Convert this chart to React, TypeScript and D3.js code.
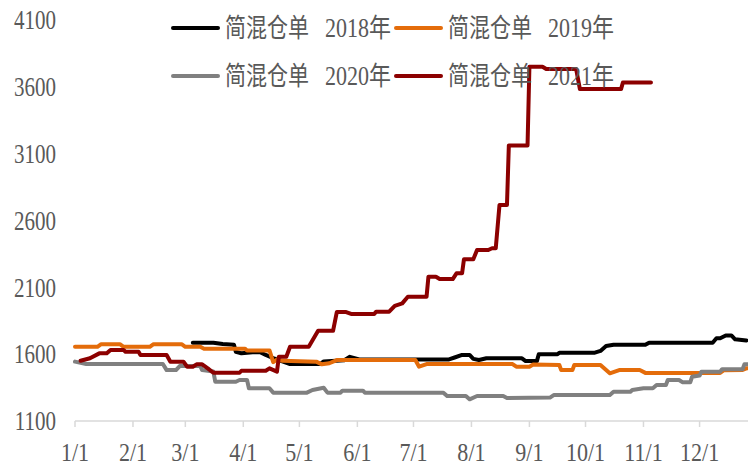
import * as d3 from 'd3';

// 简混仓单 warehouse receipts, [date, value]
const series2018: [string, number][] = [
  ['03-05', 1686], ['03-16', 1686], ['03-21', 1676], ['03-27', 1670], ['03-28', 1618], ['03-31', 1606],
  ['04-06', 1614], ['04-10', 1614], ['04-13', 1594], ['04-17', 1571], ['04-26', 1526], ['05-12', 1526],
  ['05-14', 1545], ['05-25', 1555], ['05-28', 1580], ['06-02', 1561], ['07-20', 1561], ['07-23', 1575],
  ['07-27', 1594], ['07-31', 1594], ['08-02', 1565], ['08-05', 1556], ['08-09', 1569], ['08-28', 1569],
  ['08-30', 1548], ['09-05', 1548], ['09-06', 1599], ['09-16', 1599], ['09-17', 1611], ['10-06', 1611],
  ['10-09', 1624], ['10-12', 1661], ['10-16', 1670], ['11-02', 1670], ['11-04', 1686], ['12-08', 1686],
  ['12-10', 1719], ['12-12', 1719], ['12-15', 1740], ['12-18', 1740], ['12-20', 1711], ['12-26', 1703],
];

const series2019: [string, number][] = [
  ['01-01', 1655], ['01-13', 1655], ['01-15', 1675], ['01-25', 1675], ['01-27', 1655], ['02-10', 1655],
  ['02-12', 1675], ['02-27', 1675], ['03-01', 1655], ['03-09', 1655], ['03-11', 1640], ['04-02', 1640],
  ['04-03', 1628], ['04-15', 1628], ['04-17', 1540], ['04-19', 1560], ['04-22', 1550], ['05-10', 1544],
  ['05-13', 1524], ['05-17', 1532], ['05-21', 1556], ['07-02', 1556], ['07-04', 1506], ['07-08', 1526],
  ['08-23', 1526], ['08-25', 1506], ['09-01', 1506], ['09-03', 1522], ['09-17', 1519], ['09-18', 1481],
  ['09-24', 1481], ['09-25', 1519], ['10-09', 1519], ['10-14', 1457], ['10-19', 1481], ['10-30', 1481],
  ['11-02', 1460], ['12-12', 1460], ['12-14', 1480], ['12-24', 1482], ['12-26', 1494], ['12-31', 1494],
];

const series2020: [string, number][] = [
  ['01-01', 1544], ['01-07', 1526], ['02-17', 1526], ['02-19', 1481], ['02-24', 1481], ['02-26', 1511],
  ['03-09', 1511], ['03-10', 1481], ['03-16', 1470], ['03-17', 1394], ['03-28', 1394], ['03-30', 1407],
  ['04-03', 1407], ['04-04', 1345], ['04-15', 1345], ['04-17', 1312], ['05-05', 1312], ['05-08', 1332],
  ['05-14', 1349], ['05-16', 1312], ['05-23', 1312], ['05-24', 1327], ['06-04', 1327], ['06-05', 1312],
  ['07-17', 1312], ['07-19', 1287], ['07-29', 1287], ['07-31', 1262], ['08-04', 1287], ['08-18', 1287],
  ['08-20', 1272], ['09-12', 1275], ['09-14', 1294], ['10-14', 1294], ['10-16', 1319], ['10-25', 1319],
  ['10-26', 1332], ['11-01', 1345], ['11-06', 1345], ['11-08', 1369], ['11-13', 1369], ['11-14', 1407],
  ['11-20', 1407], ['11-22', 1389], ['11-26', 1389], ['11-27', 1431], ['12-01', 1440], ['12-02', 1469],
  ['12-12', 1469], ['12-13', 1487], ['12-24', 1487], ['12-25', 1524], ['12-27', 1524],
];

const series2021: [string, number][] = [
  ['01-04', 1551], ['01-09', 1569], ['01-14', 1606], ['01-18', 1606], ['01-20', 1631], ['01-27', 1631],
  ['01-28', 1618], ['02-04', 1618], ['02-05', 1594], ['02-19', 1594], ['02-21', 1544], ['02-28', 1544],
  ['03-02', 1506], ['03-05', 1506], ['03-07', 1524], ['03-10', 1524], ['03-13', 1494], ['03-16', 1461],
  ['03-30', 1461], ['03-31', 1476], ['04-13', 1476], ['04-15', 1494], ['04-19', 1469], ['04-20', 1581],
  ['04-24', 1581], ['04-26', 1656], ['05-06', 1656], ['05-11', 1775], ['05-19', 1775], ['05-21', 1915],
  ['05-26', 1915], ['05-29', 1900], ['06-10', 1900], ['06-11', 1918], ['06-18', 1918], ['06-21', 1962],
  ['06-25', 1980], ['06-28', 2030], ['07-08', 2030], ['07-09', 2179], ['07-13', 2179], ['07-15', 2162],
  ['07-22', 2162], ['07-24', 2205], ['07-27', 2205], ['07-28', 2310], ['08-02', 2310], ['08-04', 2379],
  ['08-10', 2379], ['08-12', 2392], ['08-14', 2392], ['08-16', 2716], ['08-20', 2716], ['08-21', 3162],
  ['08-31', 3162], ['09-01', 3750], ['09-08', 3750], ['09-10', 3733], ['09-26', 3733], ['09-28', 3583],
  ['10-20', 3583], ['10-21', 3633], ['11-05', 3633],
];

const seriesPrefix = '简混仓单';
const seriesYears = ['2018年', '2019年', '2020年', '2021年'];
const seriesColors = ['#000000', '#E46C0A', '#808080', '#8C0000'];
const yTicks = [1100, 1600, 2100, 2600, 3100, 3600, 4100];

const W = 748;
const H = 466;
const textColor = '#595959';
const font = '"Liberation Serif", "Noto Sans CJK SC", serif';

const parseDay = d3.timeParse('%Y-%m-%d');
const toDate = (md: string) => parseDay(`2021-${md}`) as Date;

export default function App() {
  const x = d3
    .scaleTime()
    .domain([toDate('01-01'), toDate('12-31')])
    .range([75, 75 + 364 * 1.87]);
  const y = d3.scaleLinear().domain([1100, 4100]).range([421, 20]);

  const line = d3
    .line<[string, number]>()
    .x(d => x(toDate(d[0])))
    .y(d => y(d[1]));

  const allSeries = [series2018, series2019, series2020, series2021];
  const months = d3.timeMonth.range(toDate('01-01'), toDate('12-31'));
  const fmt = d3.timeFormat('%-m/%-d');

  const legendPos = [
    [173, 28],
    [396, 28],
    [173, 76],
    [396, 76],
  ];

  return (
    <svg
      width={W}
      height={H}
      style={{ position: 'absolute', left: 0, top: 0, background: '#fff' }}
      fontFamily={font}
    >
      {/* y labels */}
      {yTicks.map(t => (
        <text
          key={t}
          transform={`translate(56,${y(t)}) scale(1,1.25)`}
          dy="0.35em"
          textAnchor="end"
          fontSize={21}
          fill={textColor}
        >
          {t}
        </text>
      ))}

      {/* x axis */}
      <line x1={75} x2={W} y1={421} y2={421} stroke="#D9D9D9" strokeWidth={1.5} />
      {months.map(m => (
        <g key={m.getTime()} transform={`translate(${x(m)},0)`}>
          <line y1={421} y2={427} stroke="#D9D9D9" strokeWidth={1.5} />
          <text
            transform="translate(0,452) scale(1.05,1.2)"
            dy="0.35em"
            textAnchor="middle"
            fontSize={21}
            fill={textColor}
          >
            {fmt(m)}
          </text>
        </g>
      ))}

      {/* series */}
      {allSeries.map((s, i) => (
        <path
          key={i}
          d={line(s) ?? ''}
          fill="none"
          stroke={seriesColors[i]}
          strokeWidth={4}
          strokeLinejoin="round"
          strokeLinecap="round"
        />
      ))}

      {/* legend */}
      {seriesYears.map((yr, i) => {
        const [lx, ly] = legendPos[i];
        return (
          <g key={yr} transform={`translate(${lx},${ly})`}>
            <line x1={0} x2={45} y1={0} y2={0} stroke={seriesColors[i]} strokeWidth={4} strokeLinecap="round" />
            <text transform="translate(52,0) scale(1,1.25)" dy="0.36em" fontSize={21} fill={textColor}>
              <tspan x={0}>{seriesPrefix}</tspan>
              <tspan x={100} textLength={66} lengthAdjust="spacingAndGlyphs">
                {yr}
              </tspan>
            </text>
          </g>
        );
      })}
    </svg>
  );
}
